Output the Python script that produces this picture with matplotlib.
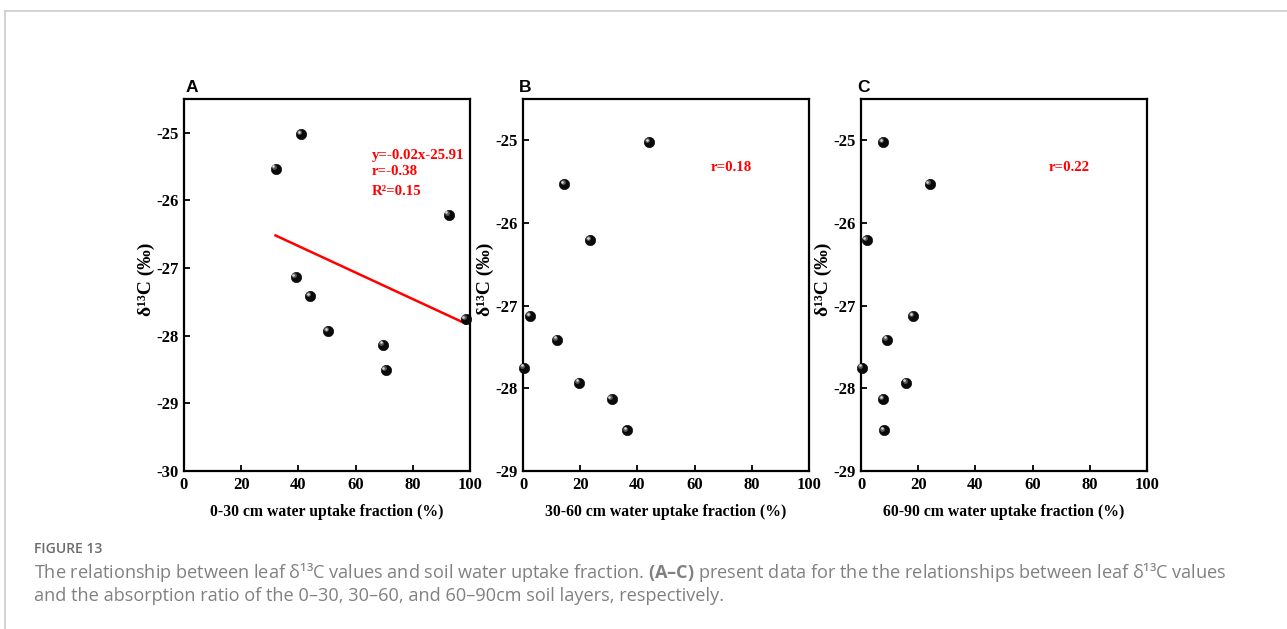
import matplotlib
matplotlib.use("Agg")
import matplotlib.pyplot as plt
import matplotlib.transforms as mtransforms
import numpy as np

# ---------------- data ----------------
d13c = [-25.02, -25.53, -26.21, -27.13, -27.41, -27.75, -27.93, -28.13, -28.51]
frac_0_30 = [41.0, 32.0, 92.5, 39.0, 44.0, 98.5, 50.5, 69.5, 70.5]
frac_30_60 = [44.0, 14.5, 23.5, 2.5, 12.0, 0.5, 19.5, 31.0, 36.5]
frac_60_90 = [7.6, 24.0, 2.0, 18.2, 9.0, 0.3, 15.9, 7.6, 8.0]

fit_slope = -0.0196
fit_intercept = -25.89

panel_letters = ["A", "B", "C"]
x_labels = ["0-30 cm water uptake fraction (%)",
            "30-60 cm water uptake fraction (%)",
            "60-90 cm water uptake fraction (%)"]
annotations = [["y=-0.02x-25.91", "r=-0.38", "R²=0.15"], ["r=0.18"], ["r=0.22"]]
y_limits = [(-30, -24.5), (-29, -24.5), (-29, -24.5)]
y_ticks = [[-30, -29, -28, -27, -26, -25], [-29, -28, -27, -26, -25], [-29, -28, -27, -26, -25]]
x_ticks = [0, 20, 40, 60, 80, 100]

plt.rcParams["mathtext.fontset"] = "custom"
plt.rcParams["mathtext.rm"] = "Open Sans"
plt.rcParams["mathtext.bf"] = "Open Sans:bold"

W, H = 1287, 629
fig = plt.figure(figsize=(W / 100, H / 100), dpi=100)
fig.patch.set_facecolor("white")

serif = "Liberation Serif"
sans = "Liberation Sans"

lefts = [184, 523, 861]
ax_w = 286
ax_top, ax_bot = 99, 471

xs_all = [frac_0_30, frac_30_60, frac_60_90]

for i in range(3):
    ax = fig.add_axes([lefts[i] / W, 1 - ax_bot / H, ax_w / W, (ax_bot - ax_top) / H])
    xs = xs_all[i]
    # sphere-like markers
    ax.scatter(xs, d13c, s=56, color="#0a0a0a", edgecolors="#000000", linewidths=0.4,
               zorder=3, clip_on=False)
    off = mtransforms.offset_copy(ax.transData, fig=fig, x=-1.4, y=1.4, units="points")
    ax.scatter(xs, d13c, s=12, color="#5a5a5a", linewidths=0, zorder=4,
               transform=off, clip_on=False)
    off2 = mtransforms.offset_copy(ax.transData, fig=fig, x=-1.6, y=1.6, units="points")
    ax.scatter(xs, d13c, s=3.5, color="#d8d8d8", linewidths=0, zorder=5,
               transform=off2, clip_on=False)

    if i == 0:
        xl = np.array([min(xs), max(xs)])
        ax.plot(xl, fit_slope * xl + fit_intercept, color="#ff0000", lw=1.8, zorder=2)

    ax.set_xlim(0, 100)
    ax.set_ylim(*y_limits[i])
    ax.set_xticks(x_ticks)
    ax.set_yticks(y_ticks[i])
    ax.set_xticklabels([str(t) for t in x_ticks], fontfamily=serif, fontweight="bold", fontsize=12)
    ax.set_yticklabels([str(t) for t in y_ticks[i]], fontfamily=serif, fontweight="bold", fontsize=12)
    ax.tick_params(direction="in", length=4, width=1.3, pad=4, top=False, right=False)
    for sp in ax.spines.values():
        sp.set_linewidth(1.6)
        sp.set_color("black")

    ax.set_xlabel(x_labels[i], fontfamily=serif, fontweight="bold", fontsize=11.3)
    ax.xaxis.set_label_coords(0.5, -0.088)
    ax.set_ylabel("δ¹³C (‰)", fontfamily=serif, fontweight="bold", fontsize=14)
    ax.yaxis.set_label_coords(-0.103, 0.515)

    ys = [0.849, 0.804, 0.752] if i == 0 else [0.815]
    for txt, yy in zip(annotations[i], ys):
        ax.text(0.655, yy, txt, transform=ax.transAxes, color="#ff0000",
                fontfamily=serif, fontweight="bold", fontsize=10.7, va="center", ha="left")

    ax.text(lefts[i] / W + (0.001 if i == 0 else -0.003), 1 - 87 / H, panel_letters[i],
            transform=fig.transFigure, fontfamily=sans, fontweight="bold", fontsize=12.5,
            va="center", ha="left")

# frame lines (top and left)
fig.add_artist(plt.Line2D([4.5 / W, 1.0], [1 - 10.5 / H, 1 - 10.5 / H], color="#cccccc", lw=1.2,
                          transform=fig.transFigure))
fig.add_artist(plt.Line2D([4.5 / W, 4.5 / W], [0, 1 - 10.5 / H], color="#cccccc", lw=1.2,
                          transform=fig.transFigure))

# caption
fig.text(34 / W, 1 - 549 / H, "FIGURE 13", fontfamily="Open Sans", fontweight="semibold",
         fontsize=10, color="#6b6b6b", va="center", ha="left")
fig.text(34 / W, 1 - 572 / H,
         "The relationship between leaf δ¹³C values and soil water uptake fraction. "
         r"$\mathbf{(A–C)}$ present data for the the relationships between leaf δ¹³C values",
         fontfamily="Open Sans", fontsize=13.1, color="#808080", va="center", ha="left")
fig.text(34 / W, 1 - 596 / H,
         "and the absorption ratio of the 0–30, 30–60, and 60–90cm soil layers, respectively.",
         fontfamily="Open Sans", fontsize=13.1, color="#808080", va="center", ha="left")

fig.savefig("out.png", dpi=100, facecolor="white")
